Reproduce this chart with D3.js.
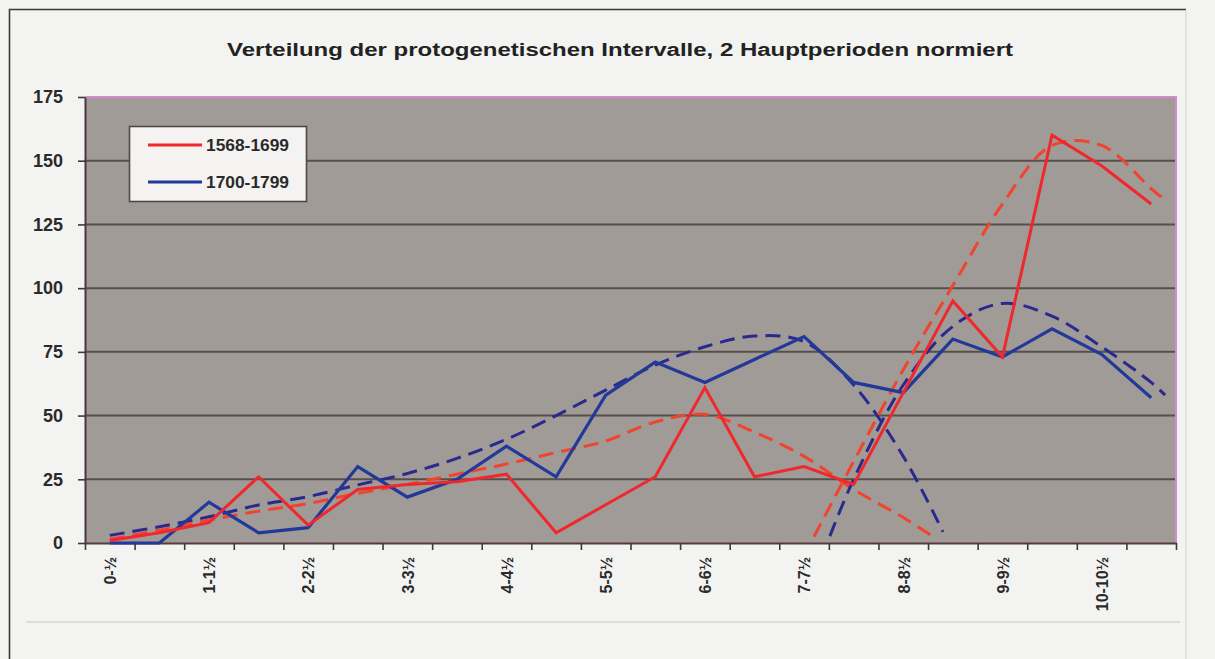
<!DOCTYPE html>
<html><head><meta charset="utf-8">
<script src="https://cdn.jsdelivr.net/npm/d3@7"></script>
<style>
html,body{margin:0;padding:0;background:#f3f3f1;}
svg{display:block;}
text{font-family:"Liberation Sans",Arial,sans-serif;}
</style></head><body>
<svg id="c" width="1215" height="659"></svg>
<script>
// ---------- data ----------
const categories = ["0-½","½-1","1-1½","1½-2","2-2½","2½-3","3-3½","3½-4","4-4½","4½-5","5-5½","5½-6","6-6½","6½-7","7-7½","7½-8","8-8½","8½-9","9-9½","9½-10","10-10½","10½-11"];
const yTicks = [0,25,50,75,100,125,150,175];
const titleText = "Verteilung der protogenetischen Intervalle, 2 Hauptperioden normiert";
const seriesNames = ["1568-1699","1700-1799"];
const values1568 = [1,4,8,26,7,21,23,24,27,4,15,26,61,26,30,23,59,95,73,160,148,133];
const values1700 = [0,0,16,4,6,30,18,25,38,26,58,71,63,72,81,63,59,80,73,84,74,57];
// dashed trend curves (position in category units)
const trend1568aPos = [0,1,2,3,4,5,6,7,8,9,10,11,12,13,14,15,16,16.6];
const trend1568aVal = [1.5,5,9,12.5,15.5,19.5,23,27,31,35.5,40,47.5,50.5,43.5,34,21,10,2.5];
const trend1700aPos = [0,1,2,3,4,5,6,7,8,9,10,11,12,13,14,15,16,16.8];
const trend1700aVal = [3,6.4,10.3,14.9,18.2,22.8,27.3,33.2,40.7,50,60,69.8,77,81.2,79,62,34,4.4];
const trend1568bPos = [14.2,15,16,17,18,19,20,21,21.28];
const trend1568bVal = [2.5,32,68,101,133,156,156,139,134.5];
const trend1700bPos = [14.52,15,16,17,18,19,20,21,21.28];
const trend1700bVal = [2.7,25,62,85,94,89,77,63,58];

// ---------- layout ----------
const svg = d3.select("#c");
const L = 85, R = 1176, T = 97, B = 543;
const x = d3.scaleLinear().domain([-0.5, categories.length - 0.5]).range([L, R]);
const y = d3.scaleLinear().domain([0, 175]).range([B, T]);

const RED = "#f0282e", BLUE = "#22399a", RED_D = "#f0442e", BLUE_D = "#2a2a8e";

// frame
svg.append("path").attr("d", `M9.5,659 V9.5 H1186`).attr("fill","none").attr("stroke","#3a3a3a").attr("stroke-width",1.6);
svg.append("line").attr("x1",1186).attr("x2",1186).attr("y1",10).attr("y2",659).attr("stroke","#d8d8d6").attr("stroke-width",1.2);
svg.append("line").attr("x1",26).attr("x2",1180).attr("y1",622).attr("y2",622).attr("stroke","#dcdcda").attr("stroke-width",2);

// title
svg.append("text").attr("x", 620).attr("y", 56).attr("text-anchor","middle")
  .attr("font-size", 18).attr("font-weight","bold").attr("fill","#222")
  .attr("textLength", 786).attr("lengthAdjust","spacingAndGlyphs")
  .text(titleText);

// plot background
svg.append("rect").attr("x", L).attr("y", T).attr("width", R - L).attr("height", B - T).attr("fill", "#a09b97");

// gridlines
svg.append("g").selectAll("line").data(yTicks.filter(v => v > 0 && v < 175)).join("line")
  .attr("x1", L).attr("x2", R).attr("y1", d => y(d)).attr("y2", d => y(d))
  .attr("stroke", "#564f4b").attr("stroke-width", 2);

// top & right pink border
svg.append("path").attr("d", `M${L},${T} H${R} V${B}`).attr("fill","none").attr("stroke","#d08ccc").attr("stroke-width",2);

// y axis
const ya = svg.append("g").attr("transform", `translate(${L},0)`)
  .call(d3.axisLeft(y).tickValues(yTicks).tickSize(7).tickPadding(15).tickSizeOuter(0));
ya.select(".domain").attr("stroke", "#4a3448").attr("stroke-width", 2);
ya.selectAll(".tick line").attr("stroke", "#3a3a3a").attr("stroke-width", 1.6);
ya.selectAll(".tick text").attr("font-size", 18).attr("font-weight","bold").attr("fill","#2a2a2a")
  .style("font-family", '"Liberation Sans",Arial,sans-serif');

// x axis ticks at category boundaries
const xa = svg.append("g").attr("transform", `translate(0,${B})`)
  .call(d3.axisBottom(x).tickValues(d3.range(-0.5, categories.length, 1)).tickSize(7).tickFormat("").tickSizeOuter(0));
xa.select(".domain").attr("stroke", "#5a3a3e").attr("stroke-width", 2);
xa.selectAll(".tick line").attr("stroke", "#3a3a3a").attr("stroke-width", 1.6);

// x axis labels (every other category)
const xl = svg.append("g").attr("transform", `translate(0,${B})`)
  .call(d3.axisBottom(x).tickValues(d3.range(0, categories.length, 2)).tickSize(0).tickFormat(i => categories[i]));
xl.select(".domain").remove();
xl.selectAll(".tick text")
  .attr("transform", "rotate(-90)").attr("text-anchor", "end")
  .attr("x", -14).attr("y", 0).attr("dy", "0.36em")
  .attr("font-size", 16).attr("font-weight","bold").attr("fill","#2a2a2a")
  .style("font-family", '"Liberation Sans",Arial,sans-serif');

// lines
const lineCat = d3.line().x((d, i) => x(i)).y(d => y(d));
const lineTrend = d3.line().x(d => x(d[0])).y(d => y(d[1])).curve(d3.curveCatmullRom.alpha(0.5));

const g = svg.append("g");
function trend(pos, val, color) {
  g.append("path").datum(pos.map((p, i) => [p, val[i]])).attr("d", lineTrend)
    .attr("fill","none").attr("stroke", color).attr("stroke-width", 3)
    .attr("stroke-dasharray", "15,8").attr("stroke-linecap","butt");
}
trend(trend1700aPos, trend1700aVal, BLUE_D);
trend(trend1568aPos, trend1568aVal, RED_D);
trend(trend1700bPos, trend1700bVal, BLUE_D);
trend(trend1568bPos, trend1568bVal, RED_D);

g.append("path").datum(values1700).attr("d", lineCat).attr("fill","none").attr("stroke", BLUE).attr("stroke-width", 3.2).attr("stroke-linejoin","miter");
g.append("path").datum(values1568).attr("d", lineCat).attr("fill","none").attr("stroke", RED).attr("stroke-width", 3).attr("stroke-linejoin","miter");

// legend
const lg = svg.append("g");
lg.append("rect").attr("x", 129.5).attr("y", 126.5).attr("width", 177).attr("height", 75)
  .attr("fill", "#f4f3f1").attr("stroke", "#4a4a4a").attr("stroke-width", 1.6);
const legendColors = [RED, BLUE];
const legendY = [145, 182];
seriesNames.forEach((name, i) => {
  lg.append("line").attr("x1", 148).attr("x2", 202).attr("y1", legendY[i]).attr("y2", legendY[i])
    .attr("stroke", legendColors[i]).attr("stroke-width", 3);
  lg.append("text").attr("x", 206).attr("y", legendY[i]).attr("dy", "0.36em")
    .attr("font-size", 16).attr("font-weight", "bold").attr("fill", "#2a2a2a")
    .attr("textLength", 83).attr("lengthAdjust", "spacingAndGlyphs").text(name);
});
</script>
</body></html>
